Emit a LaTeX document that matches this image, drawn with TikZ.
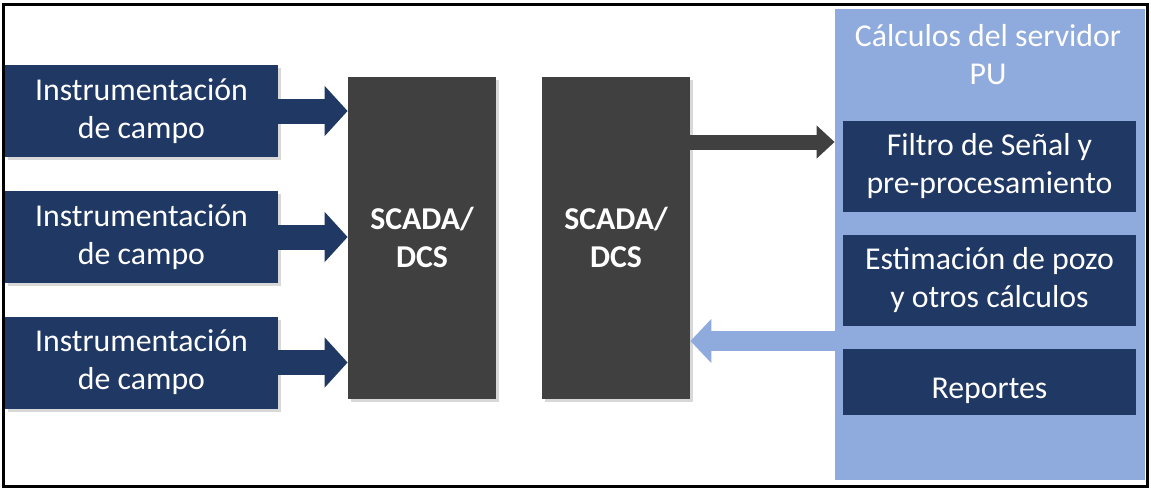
\documentclass[tikz,border=0pt]{standalone}
\usepackage{fontspec}
\setmainfont{Carlito}
\usetikzlibrary{arrows.meta,positioning,shadows}
\definecolor{navy}{HTML}{203864}
\definecolor{darkgrey}{HTML}{404040}
\definecolor{lightblue}{HTML}{8FAADC}

\begin{document}
\begin{tikzpicture}[
  x=0.5pt,y=-0.5pt,
  shade/.style={drop shadow={opacity=0.3,shadow xshift=1.5pt,shadow yshift=-1.5pt}},
  inbox/.style={fill=navy,text=white,minimum width=136.5pt,minimum height=46pt,align=center,font=\fontsize{15.9}{19}\selectfont,inner sep=0pt,shade},
  pubox/.style={fill=navy,text=white,minimum width=146.5pt,align=center,font=\fontsize{15.9}{19}\selectfont,inner sep=0pt},
  scada/.style={fill=darkgrey,text=white,minimum width=74pt,minimum height=161pt,align=center,font=\fontsize{15.9}{19}\selectfont\bfseries,inner sep=0pt,shade},
  navyarr/.style={-{Triangle[length=11.5pt,width=24.5pt]},line width=12.5pt,navy},
  greyarr/.style={-{Triangle[length=9pt,width=16pt]},line width=7.5pt,darkgrey},
  bluearr/.style={-{Triangle[length=10.5pt,width=21.5pt]},line width=10pt,lightblue}
]
\useasboundingbox (0,0) rectangle (1151,489);
\fill[white] (0,0) rectangle (1151,489);
\draw[line width=1.5pt] (3,4) rectangle (1147,486);

% servidor PU
\node[fill=lightblue,minimum width=155pt,minimum height=235.5pt,inner sep=0pt] (pu) at (990,244.5) {};
\node[text=white,align=center,font=\fontsize{15.9}{19}\selectfont] (putitle) at (988,55) {Cálculos del servidor\\PU};
\node[pubox,minimum height=45.5pt] (filtro) at (989.5,166.5) {Filtro de Señal y\\pre-procesamiento};
\node[pubox,minimum height=45.5pt] (estim) at (989.5,280.5) {Estimación de pozo\\y otros cálculos};
\node[pubox,minimum height=33pt] (report) at (989.5,382) {\raisebox{-8pt}[0pt][0pt]{Reportes}};

% campo
\node[inbox] (inst1) at (141.5,111) {Instrumentación\\de campo};
\node[inbox] (inst2) at (141.5,237) {Instrumentación\\de campo};
\node[inbox] (inst3) at (141.5,362.5) {Instrumentación\\de campo};

\node[scada] (scada1) at (422,237.5) {SCADA/\\DCS};
\node[scada] (scada2) at (616,237.5) {SCADA/\\DCS};

\draw[navyarr] (inst1.east) -- (scada1.west |- inst1.east);
\draw[navyarr] (inst2.east) -- (scada1.west |- inst2.east);
\draw[navyarr] (inst3.east) -- (scada1.west |- inst3.east);
\draw[greyarr] ([yshift=47.75pt]scada2.east) -- ([yshift=47.75pt]scada2.east -| pu.west);
\draw[bluearr] ([yshift=-51.75pt]scada2.east -| pu.west) -- ([yshift=-51.75pt]scada2.east);
\end{tikzpicture}
\end{document}
